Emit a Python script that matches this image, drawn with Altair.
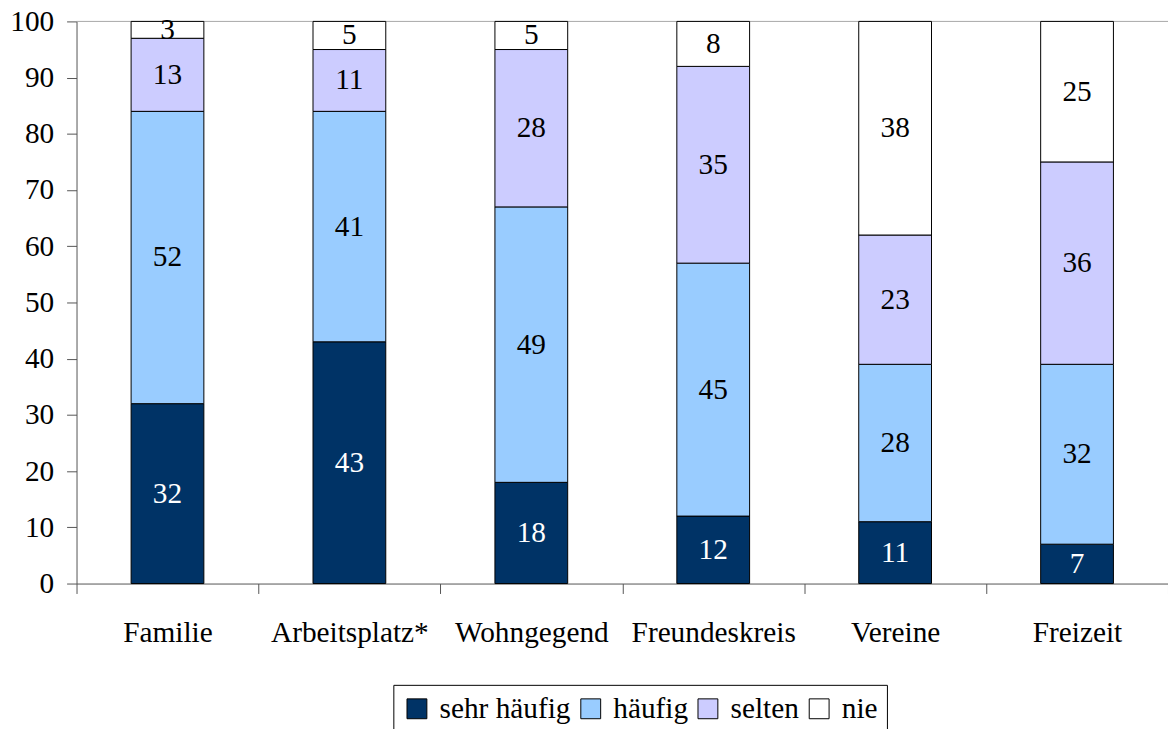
import altair as alt
import pandas as pd

categories = ["Familie", "Arbeitsplatz*", "Wohngegend", "Freundeskreis", "Vereine", "Freizeit"]
series = ["sehr häufig", "häufig", "selten", "nie"]
sehr_haeufig = [32, 43, 18, 12, 11, 7]
haeufig = [52, 41, 49, 45, 28, 32]
selten = [13, 11, 28, 35, 23, 36]
nie = [3, 5, 5, 8, 38, 25]
colors = ["#003366", "#99CCFF", "#CCCCFF", "#FFFFFF"]
text_colors = ["#FFFFFF", "#000000", "#000000", "#000000"]
y_ticks = list(range(0, 101, 10))

FONT = "Liberation Serif"
FS = 29.5

rows = []
all_vals = [sehr_haeufig, haeufig, selten, nie]
for i, c in enumerate(categories):
    cum = 0
    for j, s in enumerate(series):
        v = all_vals[j][i]
        rows.append(dict(cat=c, series=s, order=j, v=v, y0=cum, y1=cum + v,
                         mid=cum + v / 2, tcol=text_colors[j]))
        cum += v
df = pd.DataFrame(rows)

x_enc = alt.X(
    "cat:N", sort=categories,
    scale=alt.Scale(paddingInner=0, paddingOuter=0),
    axis=alt.Axis(title=None, labelAngle=0, tickBand="extent", labelFont=FONT,
                  labelFontSize=FS, labelColor="black", labelPadding=25, tickSize=10,
                  domainColor="#555555", tickColor="#555555"),
)
y_scale = alt.Scale(domain=[0, 100], nice=False)
y_axis = alt.Axis(title=None, values=y_ticks, grid=False, tickSize=10, labelPadding=13,
                  labelFont=FONT, labelFontSize=FS, labelColor="black",
                  domainColor="#555555", tickColor="#555555")

bars = alt.Chart(df).mark_bar(width=alt.RelativeBandSize(band=0.4), stroke="black",
                              strokeWidth=1).encode(
    x=x_enc,
    y=alt.Y("y0:Q", scale=y_scale, axis=y_axis),
    y2="y1:Q",
    color=alt.Color(
        "series:N", sort=series,
        scale=alt.Scale(domain=series, range=colors),
        legend=alt.Legend(title=None, orient="none", legendX=319, legendY=668,
                          direction="horizontal", strokeColor="black", padding=9,
                          symbolType="square", symbolSize=400, symbolStrokeColor="black",
                          symbolStrokeWidth=1, labelFont=FONT, labelFontSize=FS,
                          labelColor="black", labelOffset=8, columnPadding=5),
    ),
)

texts = alt.Chart(df).mark_text(font=FONT, fontSize=FS, baseline="middle").encode(
    x=alt.X("cat:N", sort=categories),
    y=alt.Y("mid:Q"),
    text="v:Q",
    color=alt.Color("tcol:N", scale=None, legend=None),
)

top_line = alt.Chart(pd.DataFrame({"y": [100]})).mark_rule(color="#a8a8a8", strokeWidth=1).encode(
    y="y:Q"
)

chart = alt.layer(top_line, bars, texts).resolve_scale(color="independent").properties(
    width=1099, height=566,
    autosize=alt.AutoSizeParams(type="none"),
    padding={"left": 69, "top": 11, "right": 0, "bottom": 150},
).configure_view(stroke=None)

chart.save("out.html", embed_options={"renderer": "svg", "actions": False})
